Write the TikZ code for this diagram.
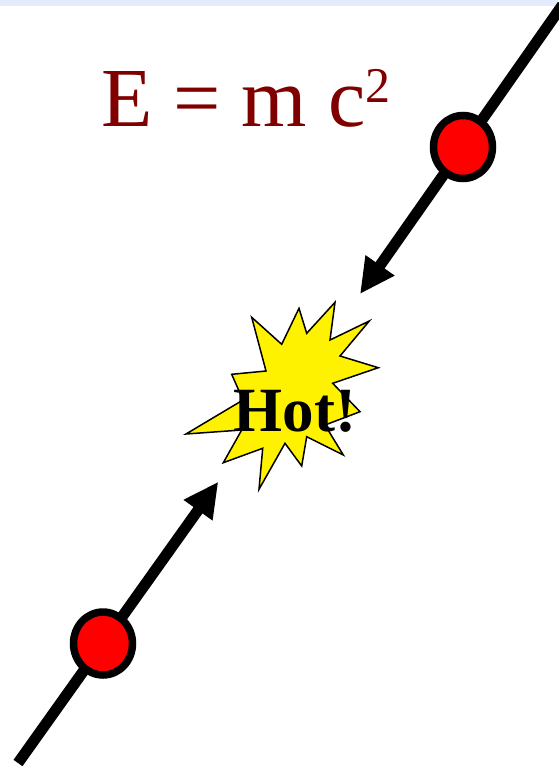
\documentclass[tikz,border=0pt]{standalone}
\usepackage{fontspec}
\setmainfont{Liberation Serif}
\usetikzlibrary{arrows.meta,shapes.geometric}
\definecolor{bandblue}{HTML}{E3EBFD}
\definecolor{darkred}{HTML}{800000}
\begin{document}
\begin{tikzpicture}[x=1pt,y=-1pt,line join=miter,
  beam/.style={line width=11pt,-{Triangle[length=35pt,width=33pt]}},
  particle/.style={ellipse,draw=black,fill=red,line width=7.5pt,inner sep=0pt,minimum width=59pt,minimum height=63pt},
  burst/.style={fill=yellow,draw=black,line width=1.5pt}]
\useasboundingbox (0,0) rectangle (558,766);
\fill[bandblue] (0,0) rectangle (558,6);
\coordinate (endA) at (562.5,5);
\coordinate (tipA) at (360,294);
\coordinate (endB) at (18,763);
\coordinate (tipB) at (218.3,481.7);
\draw[beam] (endA) -- (tipA);
\draw[beam] (endB) -- (tipB);
\node[particle] (protonA) at (463,147) {};
\node[particle] (protonB) at (103,643.5) {};
\filldraw[burst] (251.7,317.3) -- (281.7,344.3) -- (299,308.3) -- (306.7,333.3) -- (335,302.3) -- (330,340) -- (369.3,321) -- (340,356) -- (378.3,367.7) -- (332.7,383.3) -- (360,411.7) -- (325,425) -- (343.3,455) -- (306.7,436.7) -- (301.7,466) -- (285,443.3) -- (259,489.3) -- (262.7,448.3) -- (223.3,462.7) -- (241.7,430) -- (186,434) -- (243,400) -- (231.7,374.3) -- (266,371) -- cycle;
\node[font=\bfseries\fontsize{63}{63}\selectfont,anchor=base,inner sep=0pt] (hot) at (295,431.7) {Hot!};
\node[text=darkred,font=\fontsize{84}{84}\selectfont,anchor=base west,inner sep=0pt] (formula) at (101,126.7) {E = m c\raisebox{24pt}{\fontsize{50}{50}\selectfont 2}};
\end{tikzpicture}
\end{document}
